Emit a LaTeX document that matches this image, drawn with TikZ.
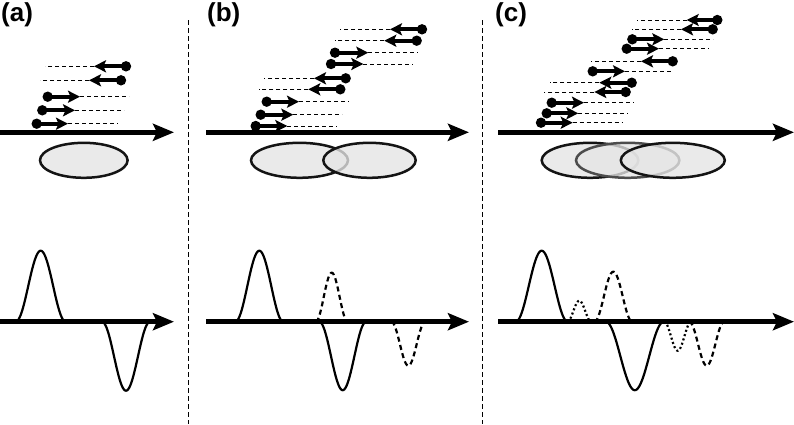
\documentclass[tikz,border=0pt]{standalone}
\usepackage{fontspec}
\setmainfont{Liberation Sans}
\usetikzlibrary{arrows.meta}
\tikzset{
  axisline/.style={line width=4.8pt, -{Stealth[length=21pt,width=17pt,inset=4pt]}},
  readarrow/.style={line width=4pt, -{Stealth[length=12pt,width=12pt,inset=2.5pt]}},
  readdash/.style={line width=0.9pt, dash pattern=on 4pt off 3pt},
  divider/.style={line width=0.9pt, dash pattern=on 4.5pt off 3.5pt},
  spotfill/.style={fill=black!10, fill opacity=0.78},
  spotline/.style={line width=2.5pt, draw=black!92},
  wave/.style={line width=2.2pt},
  wavedash/.style={wave, dash pattern=on 5pt off 3.5pt},
  wavedot/.style={wave, dash pattern=on 2pt off 2.5pt},
  panel/.style={font=\fontsize{26}{30}\selectfont\bfseries, anchor=base west, inner sep=0pt}
}
\newcommand\rd[4]{% y, dot x, tip x, dashed end x
  \draw[readdash] (#3,#1) -- (#4,#1);
  \draw[readarrow] (#2,#1) -- (#3,#1);
  \fill (#2,#1) circle[radius=5.2pt];
}
\newcommand\spot[4]{% extra line style, cx, cy, rx
  \fill[spotfill] (#2,#3) ellipse[x radius=#4pt, y radius=17.5pt];
  \draw[spotline,#1] (#2,#3) ellipse[x radius=#4pt, y radius=17.5pt];
}
\newcommand\bump[4]{% style, centre, height (up positive), half width
  \draw[#1] plot[domain=-#4:#4, samples=61, smooth]
    ({#2+\x},{321.7-(#3)*(1+cos(180*\x/#4))/2});
}
\begin{document}
\begin{tikzpicture}[x=1pt,y=-1pt]
\useasboundingbox[fill=white] (0,0) rectangle (794,424);

% labels
\node[panel] (la) at (1,21) {(a)};
\node[panel] (lb) at (207,21) {(b)};
\node[panel] (lc) at (495,21) {(c)};

% dividers
\coordinate (d1t) at (188,20); \coordinate (d1b) at (188,424);
\coordinate (d2t) at (482.7,20); \coordinate (d2b) at (482.7,424);
\draw[divider] (d1t) -- (d1b);
\draw[divider] (d2t) -- (d2b);

% ---------- panel (a) top ----------
\spot{}{83.8}{160.3}{43.8}
\rd{66.3}{126}{94}{45}
\rd{80.3}{121}{89}{40}
\rd{96.7}{47.7}{80}{129}
\rd{110.3}{42.3}{75}{124}
\rd{123.7}{36.7}{68}{118}
\coordinate (a1s) at (0,132.3); \coordinate (a1e) at (174,132.3);
\draw[axisline] (a1s) -- (a1e);

% ---------- panel (b) top ----------
\spot{}{299.5}{160.3}{48.5}
\spot{}{369.5}{160.3}{46.2}
\rd{29.3}{422}{390}{340}
\rd{40.7}{416.7}{384.3}{335}
\rd{52.7}{335}{368.3}{418.3}
\rd{64}{331}{363.3}{413.3}
\rd{78.3}{345.7}{314}{264.3}
\rd{89.3}{340.3}{308.3}{259}
\rd{101.7}{266.7}{299}{348.3}
\rd{114.7}{260.7}{293.3}{342.3}
\rd{126}{255.7}{287.3}{336.7}
\coordinate (b1s) at (206,132.3); \coordinate (b1e) at (469,132.3);
\draw[axisline] (b1s) -- (b1e);

% ---------- panel (c) top ----------
\spot{}{590}{160.3}{48.3}
\spot{draw=black!70}{627.7}{160.3}{51.7}
\spot{}{672.8}{160.3}{52}
\rd{20}{717.3}{686.7}{636.7}
\rd{29.3}{712.7}{681}{631.7}
\rd{39.3}{632.3}{664.3}{713.3}
\rd{48.7}{626.7}{659}{708.3}
\rd{61.3}{672.7}{641}{591}
\rd{71.3}{592.7}{625}{673.3}
\rd{82.7}{631.7}{599.3}{550}
\rd{92}{625.7}{594.3}{544.3}
\rd{102.7}{551.7}{584}{633.3}
\rd{113.3}{546.7}{578.3}{628.3}
\rd{122.7}{541}{572.7}{622.7}
\coordinate (c1s) at (498.3,132.3); \coordinate (c1e) at (794,132.3);
\draw[axisline] (c1s) -- (c1e);

% ---------- panel (a) bottom ----------
\bump{wave}{40.7}{71}{25}
\bump{wave}{126}{-69}{24}
\coordinate (a2s) at (0,321.7); \coordinate (a2e) at (174,321.7);
\draw[axisline] (a2s) -- (a2e);

% ---------- panel (b) bottom ----------
\bump{wave}{259.3}{71}{24}
\bump{wavedash}{331.7}{49}{16}
\bump{wave}{342.7}{-68.5}{23.5}
\bump{wavedash}{408.3}{-44}{17}
\coordinate (b2s) at (206,321.7); \coordinate (b2e) at (469,321.7);
\draw[axisline] (b2s) -- (b2e);

% ---------- panel (c) bottom ----------
\bump{wave}{541.7}{71}{26}
\bump{wavedot}{579.3}{21}{12}
\bump{wavedash}{613.3}{50}{19}
\bump{wave}{634.8}{-68.5}{29}
\bump{wavedot}{677.7}{-29}{13.5}
\bump{wavedash}{706.7}{-44}{17.5}
\coordinate (c2s) at (498.3,321.7); \coordinate (c2e) at (794,321.7);
\draw[axisline] (c2s) -- (c2e);
\end{tikzpicture}
\end{document}
